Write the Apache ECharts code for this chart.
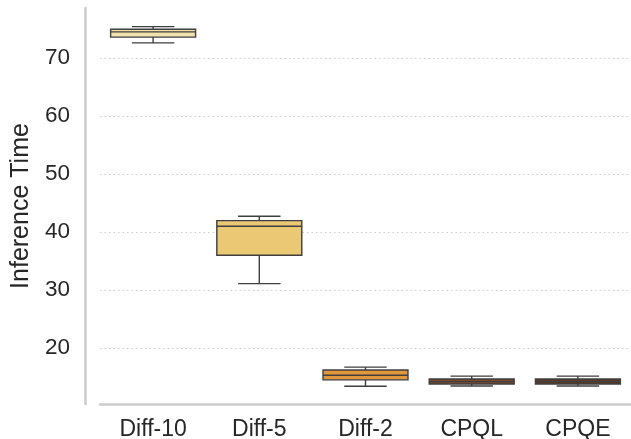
<!DOCTYPE html>
<html>
<head>
<meta charset="utf-8">
<script src="https://cdn.jsdelivr.net/npm/echarts@6/dist/echarts.min.js"></script>
<style>html,body{margin:0;padding:0;background:#fff}#c{width:631px;height:439px}</style>
</head>
<body>
<div id="c"></div>
<script>
const categories = ['Diff-10', 'Diff-5', 'Diff-2', 'CPQL', 'CPQE'];
const lowerWhisker = [72.6, 31.1, 13.4, 13.45, 13.45];
const q1 = [73.6, 36.0, 14.5, 13.8, 13.8];
const median = [74.5, 41.0, 15.3, 14.2, 14.2];
const q3 = [74.95, 41.95, 16.2, 14.65, 14.65];
const upperWhisker = [75.4, 42.7, 16.7, 15.15, 15.15];
const boxColors = ['#f2e3ae', '#ebc874', '#e3973c', '#7a4a2e', '#5c3a29'];
const yTicks = [20, 30, 40, 50, 60, 70];

const data = categories.map((c, i) => [i, lowerWhisker[i], q1[i], median[i], q3[i], upperWhisker[i]]);
const lineColor = '#3f3f3f';
const font = 'Liberation Sans, Arial, sans-serif';

const chart = echarts.init(document.getElementById('c'), null, {renderer: 'canvas'});
chart.setOption({
  animation: false,
  backgroundColor: '#ffffff',
  grid: {left: 100, right: 0, top: 8, bottom: 35, containLabel: false, outerBoundsMode: 'none'},
  xAxis: {
    type: 'category',
    data: categories,
    boundaryGap: true,
    axisLine: {show: true, lineStyle: {color: '#cccccc', width: 2.5}},
    axisTick: {show: false},
    axisLabel: {color: '#262626', fontSize: 23, fontFamily: font, margin: 14},
    splitLine: {show: false}
  },
  yAxis: {
    type: 'value',
    min: 10.34,
    max: 78.62,
    minInterval: 10,
    maxInterval: 10,
    offset: 15,
    name: 'Inference Time',
    nameLocation: 'middle',
    nameGap: 51,
    nameTextStyle: {color: '#262626', fontSize: 25, fontFamily: font},
    axisLine: {show: true, lineStyle: {color: '#cccccc', width: 2.5}},
    axisTick: {show: false},
    axisLabel: {color: '#262626', fontSize: 22.5, fontFamily: font, margin: 15, showMinLabel: false, showMaxLabel: false},
    splitLine: {show: false}
  },
  series: [{
    type: 'custom',
    data: data,
    encode: {x: 0, y: [1, 2, 3, 4, 5]},
    renderItem: function (params, api) {
      const i = api.value(0);
      const idx = params.dataIndex;
      const pLo = api.coord([i, api.value(1)]);
      const pQ1 = api.coord([i, api.value(2)]);
      const pMed = api.coord([i, api.value(3)]);
      const pQ3 = api.coord([i, api.value(4)]);
      const pHi = api.coord([i, api.value(5)]);
      const bw = api.size([1, 0])[0] * 0.8;
      const cx = pMed[0];
      const ls = {stroke: lineColor, lineWidth: 1.4};
      return {
        type: 'group',
        children: [
          {type: 'line', shape: {x1: cx, y1: pHi[1], x2: cx, y2: pQ3[1]}, style: ls},
          {type: 'line', shape: {x1: cx, y1: pQ1[1], x2: cx, y2: pLo[1]}, style: ls},
          {type: 'line', shape: {x1: cx - bw / 4, y1: pHi[1], x2: cx + bw / 4, y2: pHi[1]}, style: ls},
          {type: 'line', shape: {x1: cx - bw / 4, y1: pLo[1], x2: cx + bw / 4, y2: pLo[1]}, style: ls},
          {type: 'rect', shape: {x: cx - bw / 2, y: pQ3[1], width: bw, height: pQ1[1] - pQ3[1]},
            style: {fill: boxColors[idx], stroke: lineColor, lineWidth: 1.4}},
          {type: 'line', shape: {x1: cx - bw / 2, y1: pMed[1], x2: cx + bw / 2, y2: pMed[1]}, style: ls}
        ]
      };
    },
    markLine: {
      silent: true,
      symbol: ['none', 'none'],
      label: {show: false},
      lineStyle: {color: '#cccccc', width: 1, type: [1.5, 3]},
      data: yTicks.map(v => ({yAxis: v}))
    },
    z: 5
  }]
});
</script>
</body>
</html>
